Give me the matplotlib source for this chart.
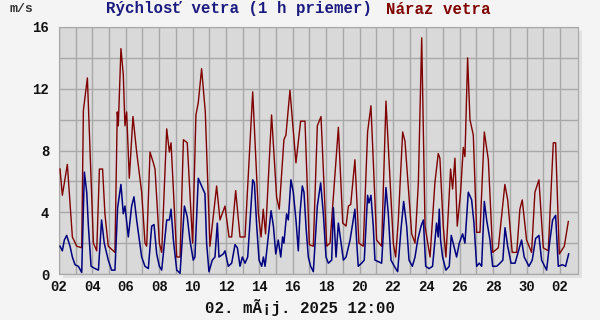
import matplotlib
matplotlib.use('Agg')
import matplotlib.pyplot as plt
from matplotlib.patches import Rectangle
import numpy as np

# time in days since 02.04.2025 00:00, speeds in m/s
gust_day = [0.06, 0.20, 0.50, 0.80, 1.06, 1.36, 1.46, 1.70, 2.06, 2.26, 2.42, 2.61, 2.75, 2.95,
  3.35, 3.49, 3.55, 3.71, 3.85, 3.95, 4.05, 4.21, 4.43, 4.65, 4.95, 5.15, 5.25, 5.45, 5.65,
  5.75, 6.01, 6.15, 6.45, 6.61, 6.71, 7.05, 7.25, 7.45, 7.68, 8.00, 8.20, 8.34, 8.54, 8.76,
  9.04, 9.44, 9.64, 9.94, 10.18, 10.34, 10.58, 10.84, 11.14, 11.60, 11.94, 12.10, 12.23,
  12.37, 12.73, 13.03, 13.19, 13.47, 13.59, 13.83, 14.19, 14.47, 14.73, 14.99, 15.23, 15.47,
  15.69, 16.03, 16.23, 16.73, 16.99, 17.19, 17.33, 17.47, 17.72, 17.96, 18.22, 18.48, 18.68,
  19.02, 19.32, 19.58, 20.02, 20.16, 20.32, 20.58, 20.72, 21.12, 21.32, 21.52, 21.72, 21.92,
  22.22, 22.51, 22.71, 22.81, 23.01, 23.17, 23.45, 23.57, 23.71, 23.85, 24.05, 24.21, 24.31,
  24.47, 24.61, 24.81, 25.01, 25.21, 25.47, 25.71, 25.97, 26.31, 26.70, 26.87, 27.14, 27.41,
  27.60, 27.74, 28.00, 28.30, 28.50, 28.74, 29.00, 29.30, 29.60, 29.74, 29.96, 30.26, 30.50]
gust_ms = [6.8, 5.1, 7.1, 2.4, 1.8, 1.7, 10.6, 12.7, 2.0, 1.5, 6.8, 6.8, 3.9, 1.8,
  1.4, 10.5, 9.6, 14.6, 12.9, 9.6, 10.5, 6.2, 10.2, 7.9, 5.3, 2.0, 1.8, 7.9, 7.2,
  6.8, 2.0, 1.4, 9.4, 7.9, 8.5, 1.1, 1.1, 8.7, 8.5, 2.0, 10.3, 11.1, 13.3, 10.5,
  1.8, 5.7, 3.5, 4.4, 2.4, 2.4, 5.4, 2.4, 2.4, 11.8, 3.9, 2.4, 4.2,
  2.6, 10.3, 5.0, 4.2, 8.7, 9.0, 11.9, 7.2, 9.9, 9.9, 1.9, 1.8, 9.6,
  10.2, 1.8, 2.0, 9.5, 3.3, 3.1, 4.4, 4.5, 7.4, 2.0, 1.8, 9.2, 10.9,
  2.2, 1.8, 11.2, 2.0, 1.1, 3.5, 9.2, 8.6, 2.6, 2.0, 5.9, 15.3, 3.1,
  1.1, 5.9, 7.8, 7.5, 3.1, 1.1, 6.8, 5.5, 7.5, 3.1, 5.3, 8.2, 7.6,
  14.0, 10.0, 9.0, 2.7, 2.7, 9.2, 7.4, 1.4, 1.7, 5.8, 4.8, 1.4, 1.4,
  4.2, 4.8, 2.2, 1.4, 5.3, 6.1, 1.7, 1.5, 8.5, 8.5, 1.3, 1.8, 3.4]

wind_day = [0.06, 0.20, 0.32, 0.46, 0.66, 0.80, 0.96, 1.16, 1.36, 1.52, 1.66, 1.76, 1.92, 2.16,
  2.36, 2.55, 2.71, 2.95, 3.15, 3.35, 3.51, 3.71, 3.85, 3.95, 4.15, 4.35, 4.49, 4.65, 4.81,
  4.95, 5.15, 5.35, 5.55, 5.69, 5.85, 6.01, 6.15, 6.45, 6.61, 6.71, 6.85, 7.05, 7.25, 7.51,
  7.68, 7.84, 8.04, 8.14, 8.34, 8.54, 8.74, 8.84, 8.98, 9.18, 9.34, 9.48, 9.58, 9.84, 9.94,
  10.14, 10.34, 10.54, 10.68, 10.84, 10.98, 11.14, 11.30, 11.60, 11.70, 11.84, 11.98, 12.14,
  12.24, 12.34, 12.70, 12.84, 12.98, 13.13, 13.28, 13.39, 13.47, 13.63, 13.73, 13.89, 14.03,
  14.19, 14.33, 14.43, 14.57, 14.67, 14.79, 14.93, 15.07, 15.23, 15.47, 15.67, 15.83, 15.99,
  16.13, 16.33, 16.43, 16.59, 16.73, 16.87, 17.03, 17.19, 17.43, 17.62, 17.72, 17.82, 17.92,
  18.12, 18.28, 18.48, 18.56, 18.68, 18.82, 18.92, 19.12, 19.32, 19.58, 19.72, 19.88, 20.08,
  20.28, 20.48, 20.64, 20.82, 20.96, 21.16, 21.32, 21.48, 21.68, 21.82, 21.96, 22.16, 22.37,
  22.61, 22.71, 22.77, 22.85, 22.97, 23.17, 23.37, 23.49, 23.65, 23.81, 23.97, 24.17, 24.31,
  24.51, 24.71, 24.85, 25.01, 25.17, 25.31, 25.47, 25.61, 25.81, 25.97, 26.21, 26.41, 26.58,
  26.71, 26.87, 27.07, 27.31, 27.70, 27.86, 28.14, 28.34, 28.54, 28.74, 28.90, 29.20, 29.40,
  29.56, 29.74, 29.90, 30.14, 30.34, 30.52]
wind_ms = [1.8, 1.5, 2.2, 2.5, 1.8, 1.1, 0.6, 0.5, 0.1, 6.6, 5.3, 3.1, 0.5, 0.35,
  0.25, 3.5, 2.0, 0.9, 0.25, 0.25, 4.3, 5.8, 3.9, 4.4, 2.4, 4.4, 5.0, 3.5, 2.2,
  1.1, 0.5, 0.35, 3.1, 3.2, 1.3, 0.5, 0.25, 3.5, 3.5, 4.2, 2.2, 0.25, 0.05, 4.4,
  3.7, 2.2, 0.9, 1.1, 6.2, 5.7, 5.2, 2.0, 0.15, 0.9, 1.1, 3.3, 1.1, 1.3, 1.5,
  0.5, 0.7, 1.9, 1.7, 0.5, 1.1, 0.7, 1.1, 6.1, 5.9, 3.1, 0.9, 0.5,
  1.1, 0.5, 4.1, 3.1, 1.3, 2.2, 1.1, 2.4, 2.0, 3.9, 3.5, 6.1, 5.3,
  3.5, 1.5, 3.9, 5.7, 5.3, 3.1, 1.1, 0.5, 0.15, 4.4, 5.9, 3.9, 1.1,
  0.7, 0.9, 4.3, 1.1, 3.3, 2.2, 0.9, 1.1, 2.2, 3.5, 4.2, 2.2, 0.5,
  0.7, 0.9, 5.1, 4.6, 5.1, 3.1, 0.9, 0.8, 0.7, 5.6, 3.9, 0.9, 0.5,
  0.15, 2.9, 4.7, 3.1, 0.9, 0.5, 1.1, 2.2, 3.1, 3.5, 0.5, 0.35, 0.5,
  3.3, 2.4, 4.2, 2.2, 1.1, 0.25, 0.5, 2.5, 1.8, 1.1, 2.0, 2.6, 2.0,
  5.3, 4.8, 3.3, 0.5, 0.7, 0.5, 4.7, 3.5, 2.2, 0.5, 0.5, 0.7, 0.9,
  3.0, 1.8, 0.7, 0.7, 2.2, 1.1, 0.5, 0.9, 2.3, 2.5, 0.9, 0.25, 2.2,
  3.5, 3.8, 0.5, 0.6, 0.5, 1.3]

x_tick_days = list(range(0, 31, 2))
x_tick_labels = ['02', '04', '06', '08', '10', '12', '14', '16', '18', '20', '22', '24', '26', '28', '30', '02']
y_ticks = [0, 4, 8, 12, 16]

title_wind = 'Rýchlosť vetra (1 h priemer)'
title_gust = 'Náraz vetra'
unit_label = 'm/s'
date_label = '02. mÃ¡j. 2025 12:00'

mono = ['Liberation Mono', 'DejaVu Sans Mono']
bg = '#f4f4f4'

fig = plt.figure(figsize=(6, 3.2), dpi=100, facecolor=bg)
W, H = 600.0, 320.0
left, right, top, bottom = 59, 578, 27, 274
ax = fig.add_axes([left / W, 1 - bottom / H, (right - left) / W, (bottom - top) / H])
ax.set_facecolor('#d9d9d9')

# drop shadow behind the plot area
shadow = Rectangle(((left + 4) / W, 1 - (bottom + 4) / H), (right - left) / W, (bottom - top) / H,
  transform=fig.transFigure, facecolor='#e1e1e1', edgecolor='none', zorder=-1)
fig.patches.append(shadow)

ax.plot(gust_day, gust_ms, color='#800000', lw=1.0, zorder=3)
ax.plot(wind_day, wind_ms, color='#000080', lw=1.1, zorder=4)

ax.set_xlim(0, 31.08)
ax.set_ylim(0, 16)
ax.set_xticks(x_tick_days)
ax.set_xticklabels(x_tick_labels)
ax.set_xticks(np.arange(0, 31, 1), minor=True)
ax.set_yticks(y_ticks)
ax.set_yticks(np.arange(0, 17, 2), minor=True)
ax.grid(True, which='both', color='#a8a8a8', lw=1.0, zorder=1)
ax.set_axisbelow(True)
ax.tick_params(which='both', length=0)
ax.tick_params(axis='x', pad=4)
ax.tick_params(axis='y', pad=7)
for lab in ax.get_xticklabels() + ax.get_yticklabels():
  lab.set_fontfamily(mono)
  lab.set_fontweight('bold')
  lab.set_fontsize(10)
  lab.set_color('#111111')
for s in ax.spines.values():
  s.set_color('#a8a8a8')

fig.text(10 / W, 1 - 9 / H, unit_label, family=mono, weight='bold', fontsize=9.5,
  color='#333333', ha='left', va='center')
fig.text(106 / W, 1 - 9 / H, title_wind, family=mono, weight='bold', fontsize=11.3,
  color='#1a1a80', ha='left', va='center')
fig.text(386 / W, 1 - 9 / H, title_gust, family=mono, weight='bold', fontsize=11.3,
  color='#800000', ha='left', va='center')
fig.text(300 / W, 1 - 308 / H, date_label, family=mono, weight='bold', fontsize=11.3,
  color='#111111', ha='center', va='center')

fig.savefig('out.png', dpi=100, facecolor=bg)
